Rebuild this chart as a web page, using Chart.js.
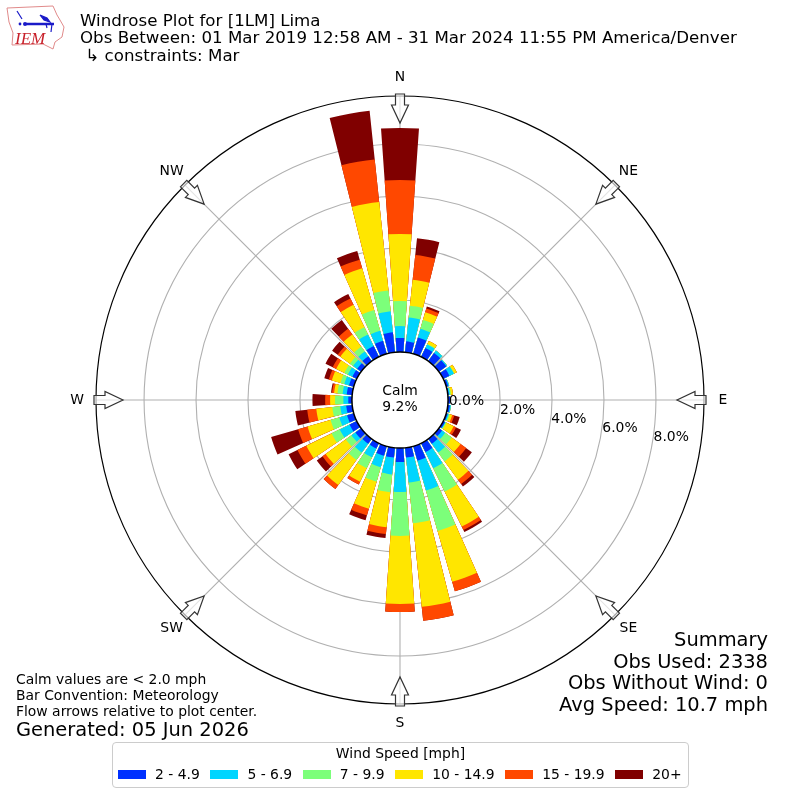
<!DOCTYPE html>
<html>
<head>
  <meta charset="UTF-8">
  <title>Windrose Plot for [1LM] Lima</title>
  <script src="https://cdn.jsdelivr.net/npm/chart.js"></script>
  <style>
    body { margin: 0; background: #fff; font-family: "DejaVu Sans", sans-serif; color: #000; }
    #wrap { position: relative; width: 800px; height: 800px; overflow: hidden; }
    #wrap canvas { position: absolute; left: 0; top: 0; }
    .txt { position: absolute; white-space: pre; line-height: 1; transform: translateY(-50%); }
    .title { left: 80px; font-size: 16.67px; }
    .note { left: 16px; font-size: 13.9px; }
    .sum { right: 32px; font-size: 19.44px; }
    #legend { position: absolute; left: 112px; top: 742px; width: 575px; height: 44px; border: 1px solid #ccc; border-radius: 4px; background: #fff; font-size: 13.9px; }
    #legendTitle { position: absolute; left: 0; right: 0; top: 2px; text-align: center; }
    #legendRow { position: absolute; left: 5px; top: 23px; display: flex; align-items: center; white-space: pre; }
    .sw { width: 28px; height: 9px; margin-right: 9px; }
    .lab { margin-right: 10.6px; }
  </style>
</head>
<body>
<div id="wrap">
  <canvas id="rose" width="800" height="800"></canvas>

  <svg style="position:absolute;left:0;top:0" width="70" height="55">
    <path d="M7 8 L53 6 L57 15 L60 20 L64 27 L62 37 L55 42 L53 49 L43 44 L12 45 L13 33 L9 22 Z" fill="#fff" stroke="#e08a8a" stroke-width="1"/>
    <path d="M26 24 L54 24" stroke="#1a1ac8" stroke-width="2.5"/>
    <path d="M40 15 L47 18 L50 22 L44 20 Z M17 11 L22 19 M46 24 L47 28 M52 24 L51 32" stroke="#1a1ac8" stroke-width="1.2" fill="#1a1ac8"/>
    <circle cx="25" cy="24" r="2" fill="#1a1ac8"/>
    <circle cx="20" cy="24" r="1.4" fill="#1a1ac8"/>
    <text x="15" y="44" font-family="Liberation Serif" font-style="italic" font-size="17" fill="#c8202a">IEM</text>
  </svg>

  <div class="txt title" style="top:21px">Windrose Plot for [1LM] Lima</div>
  <div class="txt title" style="top:38px">Obs Between: 01 Mar 2019 12:58 AM - 31 Mar 2024 11:55 PM America/Denver</div>
  <div class="txt title" style="top:56px"> ↳ constraints: Mar</div>

  <div class="txt note" style="top:680px">Calm values are &lt; 2.0 mph</div>
  <div class="txt note" style="top:696px">Bar Convention: Meteorology</div>
  <div class="txt note" style="top:712px">Flow arrows relative to plot center.</div>
  <div class="txt note" style="top:730px;font-size:19.44px">Generated: 05 Jun 2026</div>

  <div class="txt sum" style="top:640px">Summary</div>
  <div class="txt sum" style="top:662px">Obs Used: 2338</div>
  <div class="txt sum" style="top:683px">Obs Without Wind: 0</div>
  <div class="txt sum" style="top:705px">Avg Speed: 10.7 mph</div>

  <div class="txt" style="left:350px;width:100px;text-align:center;top:391px;font-size:13.9px">Calm</div>
  <div class="txt" style="left:350px;width:100px;text-align:center;top:407px;font-size:13.9px">9.2%</div>

  <div id="legend">
    <div id="legendTitle">Wind Speed [mph]</div>
    <div id="legendRow"></div>
  </div>
</div>

<script>
  const binLabels = ["2 - 4.9", "5 - 6.9", "7 - 9.9", "10 - 14.9", "15 - 19.9", "20+"];
  const binColors = ["#0030ff", "#00d5ff", "#7cff7a", "#ffe600", "#ff4800", "#800000"];

  // percent of obs per direction, 10 deg to 360 deg
  const bin2to5 = [.42,.65,.38,.38,.35,.27,.08,.04,.08,.08,.06,.08,.15,.23,.38,.58,.38,.54,.38,.38,.23,.23,.27,.31,.27,.23,.14,.21,.19,.19,.19,.23,.46,.52,.77,.54];
  const bin5to7 = [.92,.35,.15,.12,.04,.19,.04,.04,0,.04,.04,.02,.15,.42,.69,1.19,.96,1.15,.65,.46,.38,.42,.19,.42,.31,.23,.19,.16,.19,.19,.19,.23,.5,.4,.81,.46];
  const bin7to10 = [.46,.35,.02,0,0,0,0,.04,0,0,.04,.04,.31,.42,1.0,1.62,1.58,1.69,.69,.58,.46,.35,.27,.35,.35,.31,.32,.2,.15,.15,.15,.23,.31,.83,.81,.96];
  const bin10to15 = [1.0,.31,.13,0,0,.12,0,.08,0,0,.1,.31,.42,.87,1.5,2.04,3.23,2.62,1.35,1.08,.58,1.19,.96,1.08,.92,.62,.19,.13,.35,.35,.46,.58,.96,1.67,3.42,2.58];
  const bin15to20 = [.96,.15,0,0,0,0,0,0,0,0,.08,.1,.27,.21,.15,.38,.54,.31,.27,.27,.12,.19,.15,.38,.38,.35,.19,.08,.12,.15,.12,.27,.27,.35,1.65,2.08];
  const bin20up = [.65,.08,0,0,0,0,0,0,0,0,.22,.21,.27,.12,.08,0,0,0,.15,.19,0,0,.27,.38,1.08,.46,.49,.04,.18,.31,.27,.42,.19,.35,1.88,2.0];

  const rTicks = [0, 2, 4, 6, 8];
  const compass = ["N", "NE", "E", "SE", "S", "SW", "W", "NW"];

  const bins = [bin2to5, bin5to7, bin7to10, bin10to15, bin15to20, bin20up];

  // stack by hand: each ring is the running total, biggest one is painted first.
  // slots go gap, bar, gap, bar... so the last bar (360) wraps over north
  function slots(values) {
    const out = [];
    values.forEach(v => { out.push(0); out.push(v); });
    return out;
  }
  const running = bin2to5.map(() => 0);
  const datasets = bins.map((b, k) => {
    b.forEach((v, i) => { running[i] += v; });
    return {
      label: binLabels[k],
      data: slots(running),
      angle: ctx => ctx.index === 0 ? 6 : (ctx.index % 2 ? 8 : 2),
      backgroundColor: ctx => ctx.index % 2 ? binColors[k] : "rgba(0,0,0,0)",
      borderWidth: 0
    };
  });

  const roseExtras = {
    id: "roseExtras",
    afterDraw(chart) {
      const c = chart.ctx;
      const s = chart.scales.r;
      const x0 = s.xCenter, y0 = s.yCenter;
      const inner = s.getDistanceFromCenterForValue(0);

      c.save();
      // calm circle and outer frame
      c.beginPath();
      c.arc(x0, y0, inner, 0, Math.PI * 2);
      c.fillStyle = "#fff";
      c.fill();
      c.strokeStyle = "#000";
      c.lineWidth = 1.5;
      c.stroke();
      c.beginPath();
      c.arc(x0, y0, s.drawingArea, 0, Math.PI * 2);
      c.lineWidth = 1.2;
      c.stroke();

      // r tick labels sit on a line 10 deg below east
      c.fillStyle = "#000";
      c.font = '13.9px "DejaVu Sans"';
      c.textAlign = "left";
      c.textBaseline = "bottom";
      const a = 10 * Math.PI / 180;
      rTicks.forEach(v => {
        const d = s.getDistanceFromCenterForValue(v);
        c.fillText(v.toFixed(1) + "%", x0 + d * Math.cos(a) + 1.5, y0 + d * Math.sin(a));
      });

      // compass letters and the flow arrows
      c.textAlign = "center";
      c.textBaseline = "middle";
      compass.forEach((name, i) => {
        const p = s.getPointPosition(i * 9, s.drawingArea + 19);
        c.fillStyle = "#000";
        c.fillText(name, p.x, p.y);

        const e = s.getPointPosition(i * 9, s.drawingArea + 2);
        c.save();
        c.translate(e.x, e.y);
        c.rotate(i * Math.PI / 4);
        c.beginPath();
        c.moveTo(-4.5, 0);
        c.lineTo(4.5, 0);
        c.lineTo(4.5, 11);
        c.lineTo(8.5, 11);
        c.lineTo(0, 29);
        c.lineTo(-8.5, 11);
        c.lineTo(-4.5, 11);
        c.closePath();
        c.fillStyle = "rgba(255,255,255,0.65)";
        c.fill();
        c.strokeStyle = "#333";
        c.lineWidth = 1.2;
        c.stroke();
        c.restore();
      });
      c.restore();
    }
  };

  new Chart(document.getElementById("rose"), {
    type: "polarArea",
    data: { labels: slots(bin2to5).map(() => ""), datasets: datasets },
    plugins: [roseExtras],
    options: {
      responsive: false,
      animation: false,
      layout: { padding: 96 },
      plugins: { legend: { display: false }, tooltip: { enabled: false } },
      scales: {
        r: {
          z: 1,
          min: -1.85,
          max: 9.85,
          afterBuildTicks: s => { s.ticks = rTicks.map(v => ({ value: v })); },
          ticks: { display: false },
          pointLabels: { display: false },
          grid: { circular: true, color: "#b0b0b0", lineWidth: 1.1 },
          angleLines: {
            display: true,
            lineWidth: 1.1,
            color: ctx => ctx.index % 9 === 0 ? "#b0b0b0" : "rgba(0,0,0,0)"
          }
        }
      }
    }
  });

  const row = document.getElementById("legendRow");
  binLabels.forEach((t, k) => {
    const sw = document.createElement("div");
    sw.className = "sw";
    sw.style.background = binColors[k];
    const lab = document.createElement("div");
    lab.className = "lab";
    lab.textContent = t;
    row.appendChild(sw);
    row.appendChild(lab);
  });
</script>
</body>
</html>
